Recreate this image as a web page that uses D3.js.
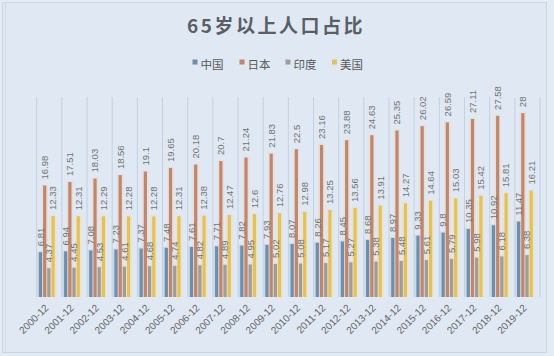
<!DOCTYPE html>
<html>
<head>
<meta charset="utf-8">
<script src="https://cdn.jsdelivr.net/npm/d3@7"></script>
<style>
  html, body { margin: 0; padding: 0; background: #dfe8f3; }
  svg { display: block; }
</style>
</head>
<body>
<svg id="chart" width="554" height="356"></svg>
<script>
const categories = ["2000-12","2001-12","2002-12","2003-12","2004-12","2005-12","2006-12","2007-12","2008-12","2009-12",
  "2010-12","2011-12","2012-12","2013-12","2014-12","2015-12","2016-12","2017-12","2018-12","2019-12"];
const seriesNames = ["中国","日本","印度","美国"];
const china = [6.81,6.94,7.08,7.23,7.37,7.48,7.61,7.71,7.82,7.93,8.07,8.26,8.45,8.68,8.97,9.33,9.8,10.35,10.92,11.47];
const japan = [16.98,17.51,18.03,18.56,19.1,19.65,20.18,20.7,21.24,21.83,22.5,23.16,23.88,24.63,25.35,26.02,26.59,27.11,27.58,28];
const india = [4.37,4.45,4.53,4.61,4.68,4.74,4.82,4.89,4.95,5.02,5.08,5.17,5.27,5.38,5.48,5.61,5.79,5.98,6.18,6.38];
const usa = [12.33,12.31,12.29,12.28,12.28,12.31,12.38,12.47,12.6,12.76,12.98,13.25,13.56,13.91,14.27,14.64,15.03,15.42,15.81,16.21];
const seriesValues = [china, japan, india, usa];
const colors = ["#6f8eab","#bd8870","#a19c98","#e3c163"];
const haloColors = ["#b9cde0","#f6d6c6","#d4d4d6","#f4e2a8"];

const svg = d3.select("#chart");
const W = 554, H = 356;
const plot = {left: 36.7, right: 540, top: 97, bottom: 297};

// chart frame
svg.append("rect").attr("x",0).attr("y",0).attr("width",W).attr("height",H).attr("fill","#e3ebf5");
svg.append("rect").attr("x",2.5).attr("y",2.5).attr("width",544).attr("height",350)
  .attr("fill","#dfe8f3").attr("stroke","#c9d6e6").attr("stroke-width",1);
svg.append("line").attr("x1",5.5).attr("x2",5.5).attr("y1",3).attr("y2",352).attr("stroke","#d0dcea");

const x = d3.scaleBand().domain(categories).range([plot.left, plot.right]).paddingInner(0).paddingOuter(0);
const y = d3.scaleLinear().domain([0, 30]).range([plot.bottom, 100]);

const barW = 3.2, barStep = 4.2, groupOffset = 2.2;

// vertical gridlines at band boundaries
const bounds = categories.map(c => x(c)).concat([x(categories[categories.length-1]) + x.bandwidth()]);
svg.append("g").selectAll("line").data(bounds).join("line")
  .attr("x1", d => d).attr("x2", d => d)
  .attr("y1", plot.top).attr("y2", plot.bottom)
  .attr("stroke", "#c3d1e2").attr("stroke-width", 1);

// title
svg.append("text").attr("x", 276).attr("y", 33).attr("text-anchor","middle")
  .attr("font-family","'Noto Sans CJK SC', sans-serif").attr("font-weight","bold")
  .attr("font-size", 19).attr("letter-spacing", 2.5).attr("fill","#5a5f66")
  .text("65岁以上人口占比");

// legend
const legendX = [192.5, 239.5, 285.5, 332];
const leg = svg.append("g");
seriesNames.forEach((n, i) => {
  leg.append("rect").attr("x", legendX[i]).attr("y", 59.5).attr("width", 5).attr("height", 5).attr("fill", colors[i]);
  leg.append("text").attr("x", legendX[i] + 8).attr("y", 69)
    .attr("font-family","'Noto Sans CJK SC', sans-serif").attr("font-size", 11.5).attr("fill","#595959")
    .text(n);
});

// bars
seriesValues.forEach((vals, si) => {
  const g = svg.append("g");
  const bx = (d, i) => x(categories[i]) + groupOffset + si * barStep;
  g.selectAll("rect.halo").data(vals).join("rect").attr("class","halo")
    .attr("x", (d,i) => bx(d,i) - 1.6).attr("width", barW + 3.2)
    .attr("y", d => y(d) - 1).attr("height", d => y(0) - y(d) + 1)
    .attr("fill", haloColors[si]).attr("opacity", 0.6);
});
seriesValues.forEach((vals, si) => {
  const g = svg.append("g");
  const bx = (d, i) => x(categories[i]) + groupOffset + si * barStep;
  g.selectAll("rect.bar").data(vals).join("rect").attr("class","bar")
    .attr("x", bx).attr("width", barW)
    .attr("y", d => y(d)).attr("height", d => y(0) - y(d))
    .attr("fill", colors[si]);
});

// data labels
seriesValues.forEach((vals, si) => {
  const g = svg.append("g");
  g.selectAll("text").data(vals).join("text")
    .attr("transform", (d, i) => {
      const cx = x(categories[i]) + groupOffset + si * barStep + barW / 2;
      return `translate(${cx},${y(d) - 6}) rotate(-90)`;
    })
    .attr("dy", "0.35em")
    .attr("text-anchor", "start")
    .attr("font-family", "'Liberation Sans', Arial, sans-serif")
    .attr("font-size", 9.5).attr("fill", "#747474")
    .text(d => d);
});

// x axis labels
const xAxis = d3.axisBottom(x).tickSize(0).tickPadding(0);
const ax = svg.append("g").attr("transform", `translate(0,${plot.bottom})`).call(xAxis);
ax.select(".domain").remove();
ax.selectAll(".tick text")
  .attr("transform", function() { return `translate(${-2.5},9) rotate(-45)`; })
  .attr("text-anchor", "end").attr("dy", "0.35em").attr("y", 0)
  .attr("font-family", "'Liberation Sans', Arial, sans-serif")
  .attr("font-size", 10).attr("fill", "#666666");
</script>
</body>
</html>
